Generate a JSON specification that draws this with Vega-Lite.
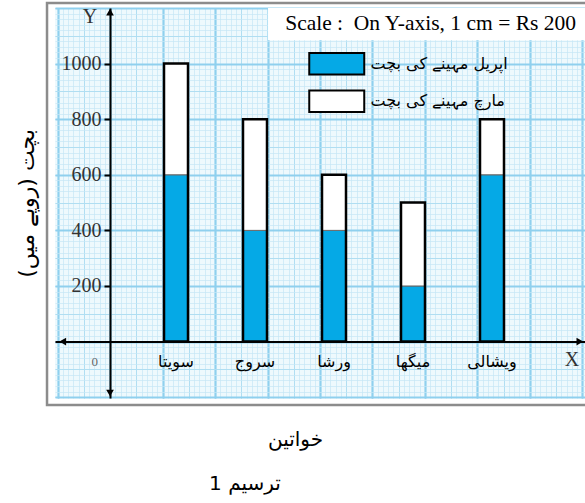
{
  "$schema": "https://vega.github.io/schema/vega-lite/v6.json",
  "width": 530,
  "height": 390,
  "autosize": {"type": "none"},
  "padding": {"left": 55, "top": 8, "right": 0, "bottom": 105},
  "background": "white",
  "config": {"view": {"fill": "#eef9fd", "stroke": null}},
  "title": {"text": "ترسیم 1", "orient": "bottom", "anchor": "middle", "frame": "group", "dx": -75, "offset": 24, "font": "DejaVu Sans", "fontSize": 20, "fontWeight": "normal", "color": "black"},
  "data": {"values": [
    {"name": "سویتا", "month": "اپریل مہینے کی بچت", "amount": 600},
    {"name": "سویتا", "month": "مارچ مہینے کی بچت", "amount": 400},
    {"name": "سروج", "month": "اپریل مہینے کی بچت", "amount": 400},
    {"name": "سروج", "month": "مارچ مہینے کی بچت", "amount": 400},
    {"name": "ورشا", "month": "اپریل مہینے کی بچت", "amount": 400},
    {"name": "ورشا", "month": "مارچ مہینے کی بچت", "amount": 200},
    {"name": "میگھا", "month": "اپریل مہینے کی بچت", "amount": 200},
    {"name": "میگھا", "month": "مارچ مہینے کی بچت", "amount": 300},
    {"name": "ویشالی", "month": "اپریل مہینے کی بچت", "amount": 600},
    {"name": "ویشالی", "month": "مارچ مہینے کی بچت", "amount": 200}
  ]},
  "layer": [
    {
      "data": {"values": [{}]},
      "layer": [
        {
          "mark": {"type": "rect", "filled": false, "stroke": "#8c8c8c", "strokeWidth": 2.5},
          "encoding": {
            "x": {"datum": -1.2, "type": "quantitative", "scale": {"domain": [-1.048, 9.048], "nice": false, "zero": false},
                  "axis": {"orient": "top", "grid": true, "gridColor": "#c6e7f5", "gridWidth": 0.7, "tickCount": 100, "labels": false, "ticks": false, "domain": false, "title": null}},
            "x2": {"datum": 10},
            "y": {"datum": 1218, "type": "quantitative", "scale": {"domain": [-203, 1200], "nice": false, "zero": false},
                  "axis": {"orient": "right", "grid": true, "gridColor": "#c6e7f5", "gridWidth": 0.7, "tickCount": 70, "labels": false, "ticks": false, "domain": false, "title": null}},
            "y2": {"datum": -228}
          }
        },
        {
          "mark": {"type": "rect", "fill": "white", "stroke": null},
          "encoding": {
            "x": {"datum": 3.01, "type": "quantitative", "scale": {"domain": [-1.048, 9.048], "nice": false, "zero": false},
                  "axis": {"orient": "top", "grid": true, "gridColor": "#b0def2", "gridWidth": 1, "tickCount": 20, "labels": false, "ticks": false, "domain": false, "title": null}},
            "x2": {"datum": 9.2},
            "y": {"datum": 1200, "type": "quantitative", "scale": {"domain": [-203, 1200], "nice": false, "zero": false},
                  "axis": {"orient": "right", "grid": true, "gridColor": "#b0def2", "gridWidth": 1, "tickCount": 14, "labels": false, "ticks": false, "domain": false, "title": null}},
            "y2": {"datum": 1084}
          }
        },
        {
          "mark": {"type": "text", "text": "Scale :\u00a0 On Y-axis, 1 cm = Rs 200", "align": "right", "baseline": "middle", "font": "Liberation Serif", "fontSize": 21.5, "color": "black"},
          "encoding": {
            "x": {"datum": 8.876, "type": "quantitative", "scale": {"domain": [-1.048, 9.048], "nice": false, "zero": false},
                  "axis": {"orient": "top", "grid": true, "gridColor": "#8fd0ee", "gridWidth": 2.2, "tickCount": 10, "labels": false, "ticks": false, "domain": false, "title": null}},
            "y": {"datum": 1142, "type": "quantitative", "scale": {"domain": [-203, 1200], "nice": false, "zero": false},
                  "axis": {"orient": "right", "grid": true, "gridColor": "#8fd0ee", "gridWidth": 2.2, "tickCount": 7, "labels": false, "ticks": false, "domain": false, "title": null}}
          }
        },
        {
          "mark": {"type": "point", "shape": "triangle-up", "filled": true, "color": "black", "opacity": 1, "size": 60},
          "encoding": {"x": {"datum": 0, "type": "quantitative", "axis": null}, "y": {"datum": 1185, "type": "quantitative", "axis": null}}
        },
        {
          "mark": {"type": "point", "shape": "triangle-down", "filled": true, "color": "black", "opacity": 1, "size": 60},
          "encoding": {"x": {"datum": 0, "type": "quantitative", "axis": null}, "y": {"datum": -185, "type": "quantitative", "axis": null}}
        },
        {
          "mark": {"type": "point", "shape": "triangle-left", "filled": true, "color": "black", "opacity": 1, "size": 60},
          "encoding": {"x": {"datum": -0.9, "type": "quantitative", "axis": null}, "y": {"datum": 0, "type": "quantitative", "axis": null}}
        },
        {
          "mark": {"type": "point", "shape": "triangle-right", "filled": true, "color": "black", "opacity": 1, "size": 60},
          "encoding": {"x": {"datum": 8.95, "type": "quantitative", "axis": null}, "y": {"datum": 0, "type": "quantitative", "axis": null}}
        },
        {
          "mark": {"type": "text", "text": "Y", "font": "Liberation Serif", "fontSize": 20, "color": "#333", "baseline": "middle"},
          "encoding": {"x": {"datum": -0.38, "type": "quantitative", "axis": null}, "y": {"datum": 1167, "type": "quantitative", "axis": null}}
        },
        {
          "mark": {"type": "text", "text": "X", "font": "Liberation Serif", "fontSize": 20, "color": "#333", "baseline": "middle"},
          "encoding": {"x": {"datum": 8.8, "type": "quantitative", "axis": null}, "y": {"datum": -66, "type": "quantitative", "axis": null}}
        },
        {
          "mark": {"type": "text", "text": "0", "font": "Liberation Serif", "fontSize": 13, "color": "#666", "baseline": "middle"},
          "encoding": {"x": {"datum": -0.29, "type": "quantitative", "axis": null}, "y": {"datum": -74, "type": "quantitative", "axis": null}}
        }
      ],
      "resolve": {"axis": {"x": "independent", "y": "independent"}}
    },
    {
      "layer": [
        {
          "mark": {"type": "bar", "stroke": "#666", "strokeWidth": 1, "width": {"band": 0.3038}},
          "encoding": {
            "x": {"field": "name", "type": "nominal", "sort": ["سویتا", "سروج", "ورشا", "میگھا", "ویشالی"],
                  "scale": {"paddingInner": 0, "paddingOuter": 0.8545, "align": 0.6037},
                  "axis": {"orient": "bottom", "offset": -56.5, "grid": false, "domainColor": "black", "domainWidth": 2, "ticks": false, "labelFont": "DejaVu Sans", "labelFontSize": 16, "labelColor": "black", "labelPadding": 12, "labelAngle": 0, "title": "خواتین", "titleFont": "DejaVu Sans", "titleFontSize": 20, "titleFontWeight": "normal", "titleColor": "black", "titlePadding": 60, "titleX": 240}},
            "y": {"field": "amount", "type": "quantitative", "stack": "zero", "scale": {"domain": [-203, 1200], "nice": false, "zero": false},
                  "axis": {"orient": "left", "offset": -55, "grid": false, "values": [200, 400, 600, 800, 1000], "format": "d", "domainColor": "black", "domainWidth": 2, "tickColor": "black", "tickWidth": 2, "tickSize": 6, "labelFont": "Liberation Serif", "labelFontSize": 20, "labelColor": "#333", "labelPadding": 3, "title": "بچت (روپے میں)", "titleFont": "DejaVu Sans", "titleFontSize": 22, "titleFontWeight": "normal", "titleColor": "black", "titlePadding": 23}},
            "order": {"field": "month", "sort": "ascending"},
            "color": {"field": "month", "type": "nominal",
                      "scale": {"domain": ["اپریل مہینے کی بچت", "مارچ مہینے کی بچت"], "range": ["#05A9E6", "#ffffff"]},
                      "legend": {"orient": "none", "legendX": 266.75, "legendY": 40.75, "title": null, "padding": 0, "symbolType": "M-2,-0.78H2V0.78H-2Z", "symbolSize": 756, "symbolStrokeColor": "black", "symbolStrokeWidth": 2, "symbolOpacity": 1, "labelFont": "DejaVu Sans", "labelFontSize": 16, "labelColor": "black", "labelOffset": 18.75, "rowPadding": 7.5}}
          }
        },
        {
          "mark": {"type": "bar", "fillOpacity": 0, "stroke": "black", "strokeWidth": 2.5, "width": {"band": 0.3038}},
          "encoding": {
            "x": {"field": "name", "type": "nominal", "sort": ["سویتا", "سروج", "ورشا", "میگھا", "ویشالی"],
                  "axis": {"orient": "bottom", "offset": -56.5, "grid": false, "domainColor": "black", "domainWidth": 2, "ticks": false, "labelFont": "DejaVu Sans", "labelFontSize": 16, "labelColor": "black", "labelPadding": 12, "labelAngle": 0, "title": "خواتین", "titleFont": "DejaVu Sans", "titleFontSize": 20, "titleFontWeight": "normal", "titleColor": "black", "titlePadding": 60, "titleX": 240}},
            "y": {"aggregate": "sum", "field": "amount", "type": "quantitative", "scale": {"domain": [-203, 1200], "nice": false, "zero": false},
                  "axis": {"orient": "left", "offset": -55, "grid": false, "values": [200, 400, 600, 800, 1000], "format": "d", "domainColor": "black", "domainWidth": 2, "tickColor": "black", "tickWidth": 2, "tickSize": 6, "labelFont": "Liberation Serif", "labelFontSize": 20, "labelColor": "#333", "labelPadding": 3, "title": "بچت (روپے میں)", "titleFont": "DejaVu Sans", "titleFontSize": 22, "titleFontWeight": "normal", "titleColor": "black", "titlePadding": 23}}
          }
        }
      ]
    }
  ],
  "resolve": {"scale": {"x": "independent"}, "axis": {"x": "independent", "y": "independent"}}
}
